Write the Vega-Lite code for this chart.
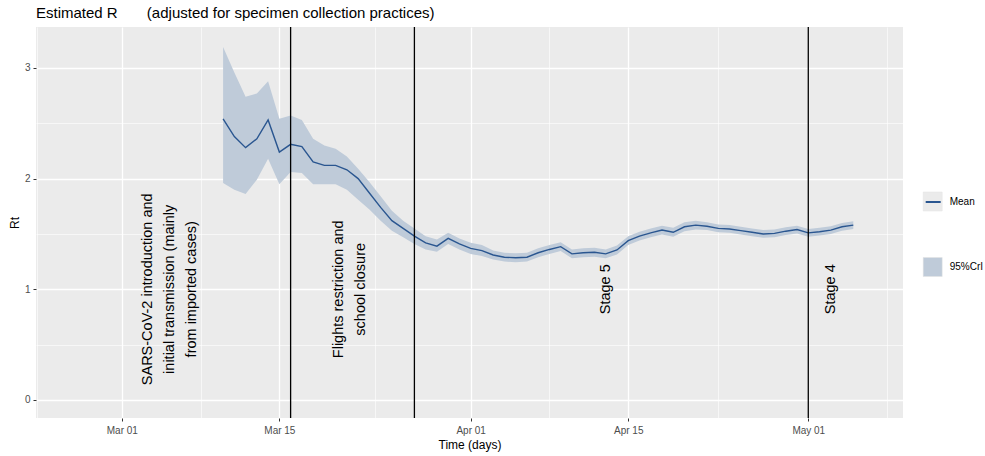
{
  "$schema": "https://vega.github.io/schema/vega-lite/v6.json",
  "width": 867,
  "height": 391,
  "autosize": {"type": "none"},
  "padding": {"left": 36, "top": 27, "right": 82, "bottom": 38},
  "background": "white",
  "config": {
    "view": {"fill": "#EBEBEB", "stroke": null},
    "font": "Liberation Sans"
  },
  "title": {
    "text": "Estimated R\u00a0\u00a0\u00a0\u00a0\u00a0\u00a0 (adjusted for specimen collection practices)",
    "anchor": "start",
    "frame": "group",
    "fontSize": 15,
    "fontWeight": "normal",
    "color": "black",
    "offset": 7,
    "baseline": "alphabetic",
    "dy": 14
  },
  "datasets": {
    "series": [
      {"date": "2020-03-10", "mean": 2.54, "lower": 1.96, "upper": 3.19},
      {"date": "2020-03-11", "mean": 2.38, "lower": 1.90, "upper": 2.96},
      {"date": "2020-03-12", "mean": 2.28, "lower": 1.86, "upper": 2.74},
      {"date": "2020-03-13", "mean": 2.36, "lower": 1.99, "upper": 2.77},
      {"date": "2020-03-14", "mean": 2.53, "lower": 2.18, "upper": 2.88},
      {"date": "2020-03-15", "mean": 2.24, "lower": 1.95, "upper": 2.54},
      {"date": "2020-03-16", "mean": 2.31, "lower": 2.06, "upper": 2.57},
      {"date": "2020-03-17", "mean": 2.29, "lower": 2.05, "upper": 2.53},
      {"date": "2020-03-18", "mean": 2.15, "lower": 1.95, "upper": 2.36},
      {"date": "2020-03-19", "mean": 2.12, "lower": 1.95, "upper": 2.30},
      {"date": "2020-03-20", "mean": 2.12, "lower": 1.95, "upper": 2.27},
      {"date": "2020-03-21", "mean": 2.08, "lower": 1.90, "upper": 2.20},
      {"date": "2020-03-22", "mean": 2.00, "lower": 1.81, "upper": 2.09},
      {"date": "2020-03-23", "mean": 1.87, "lower": 1.72, "upper": 1.97},
      {"date": "2020-03-24", "mean": 1.74, "lower": 1.62, "upper": 1.84},
      {"date": "2020-03-25", "mean": 1.62, "lower": 1.53, "upper": 1.71},
      {"date": "2020-03-26", "mean": 1.55, "lower": 1.47, "upper": 1.62},
      {"date": "2020-03-27", "mean": 1.48, "lower": 1.41, "upper": 1.55},
      {"date": "2020-03-28", "mean": 1.42, "lower": 1.36, "upper": 1.48},
      {"date": "2020-03-29", "mean": 1.39, "lower": 1.34, "upper": 1.45},
      {"date": "2020-03-30", "mean": 1.46, "lower": 1.41, "upper": 1.51},
      {"date": "2020-03-31", "mean": 1.41, "lower": 1.36, "upper": 1.46},
      {"date": "2020-04-01", "mean": 1.37, "lower": 1.32, "upper": 1.42},
      {"date": "2020-04-02", "mean": 1.35, "lower": 1.30, "upper": 1.40},
      {"date": "2020-04-03", "mean": 1.31, "lower": 1.27, "upper": 1.35},
      {"date": "2020-04-04", "mean": 1.29, "lower": 1.25, "upper": 1.33},
      {"date": "2020-04-05", "mean": 1.285, "lower": 1.245, "upper": 1.325},
      {"date": "2020-04-06", "mean": 1.29, "lower": 1.25, "upper": 1.33},
      {"date": "2020-04-07", "mean": 1.33, "lower": 1.29, "upper": 1.37},
      {"date": "2020-04-08", "mean": 1.36, "lower": 1.32, "upper": 1.40},
      {"date": "2020-04-09", "mean": 1.385, "lower": 1.345, "upper": 1.425},
      {"date": "2020-04-10", "mean": 1.32, "lower": 1.28, "upper": 1.36},
      {"date": "2020-04-11", "mean": 1.33, "lower": 1.29, "upper": 1.37},
      {"date": "2020-04-12", "mean": 1.335, "lower": 1.295, "upper": 1.375},
      {"date": "2020-04-13", "mean": 1.32, "lower": 1.28, "upper": 1.36},
      {"date": "2020-04-14", "mean": 1.355, "lower": 1.315, "upper": 1.395},
      {"date": "2020-04-15", "mean": 1.44, "lower": 1.40, "upper": 1.48},
      {"date": "2020-04-16", "mean": 1.48, "lower": 1.44, "upper": 1.52},
      {"date": "2020-04-17", "mean": 1.51, "lower": 1.47, "upper": 1.55},
      {"date": "2020-04-18", "mean": 1.535, "lower": 1.495, "upper": 1.575},
      {"date": "2020-04-19", "mean": 1.515, "lower": 1.475, "upper": 1.555},
      {"date": "2020-04-20", "mean": 1.565, "lower": 1.525, "upper": 1.605},
      {"date": "2020-04-21", "mean": 1.58, "lower": 1.54, "upper": 1.62},
      {"date": "2020-04-22", "mean": 1.57, "lower": 1.535, "upper": 1.605},
      {"date": "2020-04-23", "mean": 1.55, "lower": 1.515, "upper": 1.585},
      {"date": "2020-04-24", "mean": 1.545, "lower": 1.51, "upper": 1.58},
      {"date": "2020-04-25", "mean": 1.53, "lower": 1.495, "upper": 1.565},
      {"date": "2020-04-26", "mean": 1.515, "lower": 1.48, "upper": 1.55},
      {"date": "2020-04-27", "mean": 1.50, "lower": 1.465, "upper": 1.535},
      {"date": "2020-04-28", "mean": 1.505, "lower": 1.47, "upper": 1.54},
      {"date": "2020-04-29", "mean": 1.525, "lower": 1.49, "upper": 1.56},
      {"date": "2020-04-30", "mean": 1.54, "lower": 1.505, "upper": 1.575},
      {"date": "2020-05-01", "mean": 1.51, "lower": 1.475, "upper": 1.545},
      {"date": "2020-05-02", "mean": 1.52, "lower": 1.485, "upper": 1.555},
      {"date": "2020-05-03", "mean": 1.535, "lower": 1.50, "upper": 1.57},
      {"date": "2020-05-04", "mean": 1.565, "lower": 1.53, "upper": 1.60},
      {"date": "2020-05-05", "mean": 1.58, "lower": 1.545, "upper": 1.615}
    ],
    "events": [
      {"date": "2020-03-16"},
      {"date": "2020-03-27"},
      {"date": "2020-05-01"}
    ],
    "notes3": [
      {"date": "2020-03-05T06:00:00Z", "y": 1, "label": "SARS-CoV-2 introduction and\ninitial transmission (mainly\nfrom imported cases)"}
    ],
    "notes2": [
      {"date": "2020-03-21T06:00:00Z", "y": 1, "label": "Flights restriction and\nschool closure"}
    ],
    "notes1": [
      {"date": "2020-04-13", "y": 1, "label": "Stage 5"},
      {"date": "2020-05-03", "y": 1, "label": "Stage 4"}
    ]
  },
  "layer": [
    {
      "data": {"name": "series"},
      "mark": {"type": "area", "opacity": 1, "fillOpacity": 1},
      "encoding": {
        "x": {
          "field": "date",
          "type": "temporal",
          "scale": {
            "type": "utc",
            "domain": [
              {"year": 2020, "month": 2, "date": 22, "hours": 9, "utc": true},
              {"year": 2020, "month": 5, "date": 9, "hours": 10, "utc": true}
            ]
          },
          "axis": {
            "values": [
              {"year": 2020, "month": 2, "date": 22, "hours": 12, "utc": true},
              {"year": 2020, "month": 3, "date": 1, "utc": true},
              {"year": 2020, "month": 3, "date": 8, "utc": true},
              {"year": 2020, "month": 3, "date": 15, "utc": true},
              {"year": 2020, "month": 3, "date": 23, "hours": 12, "utc": true},
              {"year": 2020, "month": 4, "date": 1, "utc": true},
              {"year": 2020, "month": 4, "date": 8, "utc": true},
              {"year": 2020, "month": 4, "date": 15, "utc": true},
              {"year": 2020, "month": 4, "date": 23, "utc": true},
              {"year": 2020, "month": 5, "date": 1, "utc": true},
              {"year": 2020, "month": 5, "date": 8, "utc": true}
            ],
            "labelExpr": "(utcdate(datum.value) == 1 || utcdate(datum.value) == 15) ? utcFormat(datum.value, '%b %d') : ''",
            "domain": false,
            "grid": true,
            "gridColor": "white",
            "gridWidth": {"condition": {"test": "utcdate(datum.value) == 1 || utcdate(datum.value) == 15", "value": 1.3}, "value": 0.6},
            "ticks": true,
            "tickSize": 3,
            "tickWidth": 1,
            "tickColor": "#333333",
            "tickOpacity": {"condition": {"test": "utcdate(datum.value) == 1 || utcdate(datum.value) == 15", "value": 1}, "value": 0},
            "labelColor": "#4D4D4D",
            "labelFontSize": 10,
            "labelPadding": 4,
            "title": "Time (days)",
            "titleFontSize": 12,
            "titleFontWeight": "normal",
            "titleColor": "black",
            "titlePadding": 4
          }
        },
        "y": {
          "field": "lower",
          "type": "quantitative",
          "scale": {"domain": [-0.163, 3.37], "nice": false, "zero": false},
          "axis": {
            "values": [0, 0.5, 1, 1.5, 2, 2.5, 3],
            "labelExpr": "datum.value % 1 == 0 ? format(datum.value, 'd') : ''",
            "domain": false,
            "grid": true,
            "gridColor": "white",
            "gridWidth": {"condition": {"test": "datum.value % 1 == 0", "value": 1.3}, "value": 0.6},
            "tickSize": 3,
            "tickWidth": 1,
            "tickColor": "#333333",
            "tickOpacity": {"condition": {"test": "datum.value % 1 == 0", "value": 1}, "value": 0},
            "labelColor": "#4D4D4D",
            "labelFontSize": 10,
            "labelPadding": 3,
            "title": "Rt",
            "titleFontSize": 12,
            "titleFontWeight": "normal",
            "titleColor": "black",
            "titlePadding": 3
          }
        },
        "y2": {"field": "upper"},
        "fill": {
          "datum": "95%CrI",
          "scale": {"domain": ["Mean", "95%CrI"], "range": ["#EBEBEB", "#BFCBD9"]},
          "legend": {
            "orient": "none",
            "legendX": 886.7,
            "legendY": 164.5,
            "title": null,
            "padding": 0,
            "symbolType": "square",
            "symbolSize": 361,
            "symbolStrokeColor": "#E2E2E2",
            "symbolStrokeWidth": 0.5,
            "symbolOpacity": 1,
            "rowPadding": 43.5,
            "labelFontSize": 10,
            "labelColor": "black",
            "labelOffset": 7
          }
        }
      }
    },
    {
      "data": {"name": "series"},
      "mark": {"type": "line", "strokeWidth": 1.4},
      "encoding": {
        "x": {"field": "date", "type": "temporal"},
        "y": {"field": "mean", "type": "quantitative"},
        "stroke": {
          "datum": "Mean",
          "scale": {"domain": ["Mean"], "range": ["#2A5690"]},
          "legend": {
            "orient": "none",
            "legendX": 888.7,
            "legendY": 166.5,
            "title": null,
            "padding": 0,
            "symbolType": "stroke",
            "symbolSize": 225,
            "symbolStrokeWidth": 2,
            "labelExpr": "''",
            "labelFontSize": 1,
            "zindex": 1
          }
        }
      }
    },
    {
      "mark": {"type": "rule", "color": "#E8232A", "strokeDash": [5, 4], "strokeWidth": 1.5},
      "encoding": {"y": {"datum": 1}}
    },
    {
      "data": {"name": "events"},
      "mark": {"type": "rule", "color": "black", "strokeWidth": 1.3},
      "encoding": {"x": {"field": "date", "type": "temporal"}}
    },
    {
      "data": {"name": "notes3"},
      "mark": {"type": "text", "angle": 270, "fontSize": 14.5, "lineHeight": 22, "lineBreak": "\n", "align": "center", "baseline": "middle", "color": "black", "dy": -22},
      "encoding": {
        "x": {"field": "date", "type": "temporal"},
        "y": {"field": "y", "type": "quantitative"},
        "text": {"field": "label"}
      }
    },
    {
      "data": {"name": "notes2"},
      "mark": {"type": "text", "angle": 270, "fontSize": 14.5, "lineHeight": 22, "lineBreak": "\n", "align": "center", "baseline": "middle", "color": "black", "dy": -11},
      "encoding": {
        "x": {"field": "date", "type": "temporal"},
        "y": {"field": "y", "type": "quantitative"},
        "text": {"field": "label"}
      }
    },
    {
      "data": {"name": "notes1"},
      "mark": {"type": "text", "angle": 270, "fontSize": 14.5, "align": "center", "baseline": "middle", "color": "black"},
      "encoding": {
        "x": {"field": "date", "type": "temporal"},
        "y": {"field": "y", "type": "quantitative"},
        "text": {"field": "label"}
      }
    }
  ]
}
